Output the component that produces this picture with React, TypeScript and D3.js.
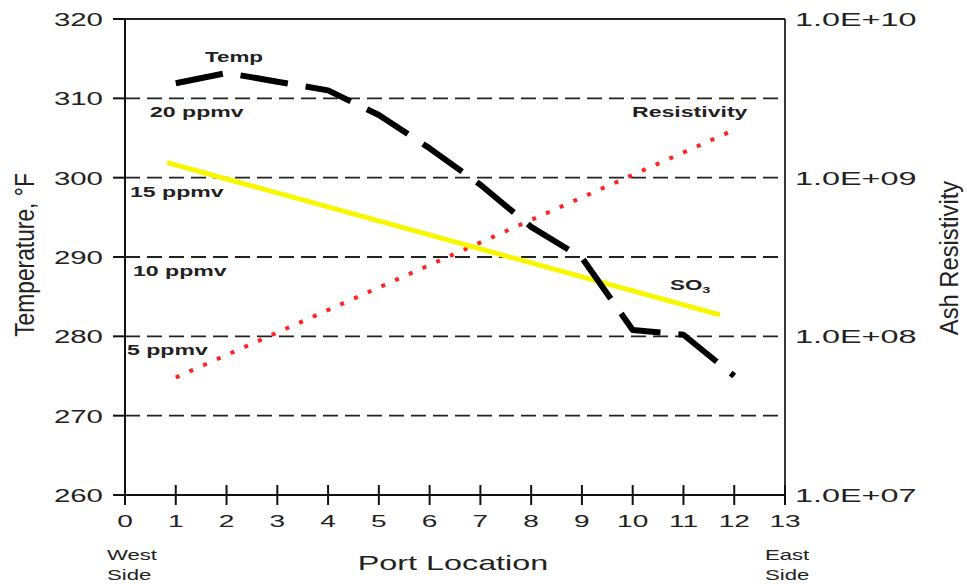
import React from 'react';
import * as d3 from 'd3';

// port positions and readings
const ports = [1, 2, 3, 4, 5, 6, 7, 8, 9, 10, 11, 12];
const temperature = [311.9, 313.2, 312.1, 311.0, 307.9, 303.7, 299.1, 293.8, 289.9, 280.8, 280.2, 275.0];

// SO3 (ppmv) straight line, start and end
const so3Ports = [0.83, 11.72];
const so3Ppmv = [15.95, 6.35];

// ash resistivity (ohm-cm), start and end of the dotted line
const resPorts = [1, 12];
const resistivity = [5.5e7, 2.0e9];

const portTicks = [0, 1, 2, 3, 4, 5, 6, 7, 8, 9, 10, 11, 12, 13];
const tempTicks = [260, 270, 280, 290, 300, 310, 320];
const gridTemps = [270, 280, 290, 300, 310];
const resTicks = [1e7, 1e8, 1e9, 1e10];
const ppmvLabels = [
    { ppmv: 20, text: '20 ppmv', x: 150 },
    { ppmv: 15, text: '15 ppmv', x: 130 },
    { ppmv: 10, text: '10 ppmv', x: 133 },
    { ppmv: 5, text: '5 ppmv', x: 127 },
];

const W = 967;
const H = 584;
const left = 125, right = 785, top = 19, bottom = 495;
const font = '"Liberation Sans", Arial, Helvetica, sans-serif';

const xScale = d3.scaleLinear().domain([0, 13]).range([left, right]);
const yTemp = d3.scaleLinear().domain([260, 320]).range([bottom, top]);
// ppmv labels sit on the temperature grid: 0 ppmv = 270 F, 2 F per ppmv
const yPpmv = d3.scaleLinear().domain([-5, 25]).range([bottom, top]);
const yRes = d3.scaleLog().domain([1e7, 1e10]).range([bottom, top]);

const fmtRes = (v: number) => '1.0E+' + String(Math.round(Math.log10(v))).padStart(2, '0');

// text helper, the reference type is stretched sideways
const Txt = ({ x, y, sx = 1.6, size = 14, anchor = 'start', weight = 'normal', fill = '#222', children }: any) => (
    <text
        transform={`translate(${x},${y}) scale(${sx},1)`}
        textAnchor={anchor}
        fontSize={size}
        fontWeight={weight}
        fontFamily={font}
        fill={fill}
    >
        {children}
    </text>
);

export default function App() {
    const tempLine = d3.line<number>()
        .x((d, i) => xScale(ports[i]))
        .y(d => yTemp(d));
    const so3Line = d3.line<number>()
        .x((d, i) => xScale(so3Ports[i]))
        .y(d => yPpmv(d));
    const resLine = d3.line<number>()
        .x((d, i) => xScale(resPorts[i]))
        .y(d => yRes(d));

    return (
        <svg width={W} height={H} style={{ position: 'absolute', left: 0, top: 0, background: '#fff' }}>
            {/* dashed grid */}
            {gridTemps.map(t => (
                <line key={'g' + t} x1={left} x2={right} y1={yTemp(t)} y2={yTemp(t)}
                    stroke="#222" strokeWidth={1.8} strokeDasharray="15 7" />
            ))}

            {/* frame */}
            <line x1={left} x2={right} y1={top} y2={top} stroke="#222" strokeWidth={1.8} />
            <line x1={right} x2={right} y1={top} y2={bottom} stroke="#222" strokeWidth={1.8} />
            <line x1={left} x2={left} y1={top} y2={bottom} stroke="#111" strokeWidth={2} />
            <line x1={left} x2={right} y1={bottom} y2={bottom} stroke="#111" strokeWidth={2} />

            {/* left ticks */}
            {tempTicks.map(t => (
                <g key={'lt' + t}>
                    <line x1={left - 12} x2={left} y1={yTemp(t)} y2={yTemp(t)} stroke="#111" strokeWidth={2} />
                    <Txt x={103} y={yTemp(t) + 7} size={19} sx={1.55} anchor="end">{t}</Txt>
                </g>
            ))}

            {/* bottom ticks */}
            {portTicks.map(p => (
                <g key={'bt' + p}>
                    <line x1={xScale(p)} x2={xScale(p)} y1={bottom - 10} y2={bottom + 10} stroke="#111" strokeWidth={2} />
                    <Txt x={xScale(p)} y={527} size={17} sx={1.65} anchor="middle">{p}</Txt>
                </g>
            ))}

            {/* right log labels */}
            {resTicks.map(r => (
                <Txt key={'rt' + r} x={795} y={yRes(r) + 7} size={18} sx={1.8}>{fmtRes(r)}</Txt>
            ))}

            {/* series */}
            <path d={resLine(resistivity) || ''} fill="none" stroke="#ff2222" strokeWidth={4} strokeDasharray="4 11" />
            <path d={so3Line(so3Ppmv) || ''} fill="none" stroke="#f7f700" strokeWidth={5} />
            <path d={tempLine(temperature) || ''} fill="none" stroke="#000" strokeWidth={6}
                strokeDasharray="48 18" strokeLinejoin="round" />

            {/* in-plot labels */}
            <Txt x={205} y={62} weight="bold" sx={1.6}>Temp</Txt>
            {ppmvLabels.map(l => (
                <Txt key={l.text} x={l.x} y={yPpmv(l.ppmv) + 19} weight="bold" sx={1.65}>{l.text}</Txt>
            ))}
            <Txt x={632} y={117} weight="bold" sx={1.65}>Resistivity</Txt>
            <text transform="translate(670,290) scale(1.6,1)" fontSize={14} fontWeight="bold" fontFamily={font} fill="#222">
                SO<tspan fontSize={9} dy={3}>3</tspan>
            </text>

            {/* axis titles */}
            <text transform="translate(34,255) rotate(-90) scale(1.2,1.5)" textAnchor="middle"
                fontSize={19} fontFamily={font} fill="#222">Temperature, °F</text>
            <text transform="translate(958,258) rotate(-90) scale(1.25,1.32)" textAnchor="middle"
                fontSize={19} fontFamily={font} fill="#222">Ash Resistivity</text>
            <Txt x={453} y={570} size={21} sx={1.54} anchor="middle">Port Location</Txt>
            <Txt x={107} y={560} size={14} sx={1.58}>West</Txt>
            <Txt x={107} y={580} size={14} sx={1.58}>Side</Txt>
            <Txt x={765} y={560} size={14} sx={1.58}>East</Txt>
            <Txt x={765} y={580} size={14} sx={1.58}>Side</Txt>
        </svg>
    );
}
